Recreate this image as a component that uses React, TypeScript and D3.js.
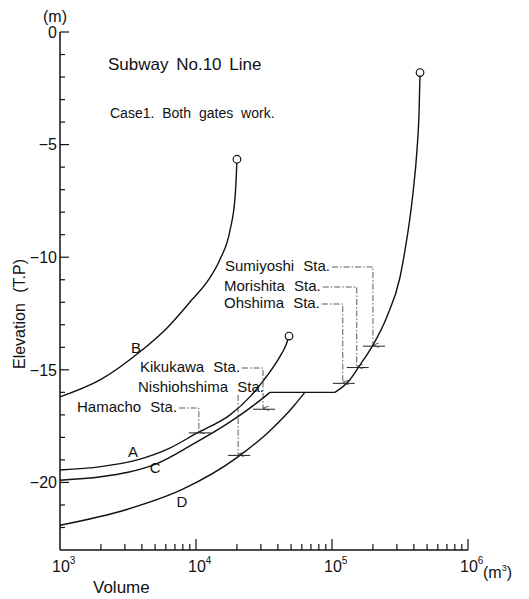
import React, { useRef, useEffect } from 'react';
import * as d3 from 'd3';

// [volume (m3), elevation (m T.P.)]
const curveA: [number, number][] = [[1000, -19.45], [2000, -19.3], [3700, -19.0], [6300, -18.5], [10200, -17.8], [17800, -17.0], [24900, -16.2], [31100, -15.5], [41500, -14.4], [45900, -13.9], [48300, -13.5]];
const curveB: [number, number][] = [[1000, -16.2], [1970, -15.45], [3870, -14.2], [6100, -13.15], [9000, -12.0], [12700, -10.9], [15000, -10.1], [17800, -8.8], [19400, -7.3], [19900, -6.0], [20000, -5.65]];
const curveC: [number, number][] = [[1000, -19.9], [2000, -19.75], [3160, -19.55], [5000, -19.2], [9500, -18.3], [16900, -17.4], [26200, -16.6], [35000, -16.0]];
const curveD: [number, number][] = [[1000, -21.9], [3100, -21.2], [8000, -20.3], [20000, -18.9], [35000, -17.7], [51600, -16.65], [63200, -16.0]];
const flatPart: [number, number][] = [[35000, -16.0], [105000, -16.0]];
const riseCurve: [number, number][] = [[105000, -16.0], [135000, -15.45], [160000, -14.8], [200000, -13.9], [253000, -12.65], [316000, -10.9], [344000, -9.7], [394000, -7.15], [422000, -5.2], [437000, -3.5], [444000, -1.8]];

// open circles at curve ends
const endPoints: [number, number][] = [[20000, -5.65], [48300, -13.5], [444000, -1.8]];

// curve names [label, volume, elevation]
const curveNames: [string, number, number][] = [['A', 3440, -18.65], ['B', 3620, -14.03], ['C', 5000, -19.36], ['D', 7890, -20.87]];

// stations [name, volume, elevation]
const stations: [string, number, number][] = [
  ['Sumiyoshi Sta.', 200000, -13.95],
  ['Morishita Sta.', 152000, -14.9],
  ['Ohshima Sta.', 120000, -15.6],
  ['Kikukawa Sta.', 31100, -16.75],
  ['Nishiohshima Sta.', 20400, -18.8],
  ['Hamacho Sta.', 10500, -17.8],
];
// label placement (px): x, baseline, leader type
const stationLabelPos: [number, number, string][] = [
  [225, 271, 'side'],
  [224, 291, 'side'],
  [224, 308, 'side'],
  [140, 372, 'side'],
  [138, 392, 'down'],
  [77, 412, 'side'],
];

const yTicks = [0, -5, -10, -15, -20];
const xDecades = [3, 4, 5, 6];

const App = () => {
  const svgRef = useRef<SVGSVGElement>(null);

  useEffect(() => {
    const width = 529;
    const height = 599;
    const font = "'Liberation Sans', Arial, sans-serif";

    const svg = d3.select(svgRef.current);
    svg.selectAll('*').remove();
    svg.attr('width', width).attr('height', height);

    const x = d3.scaleLog().domain([1e3, 1e6]).range([60, 468]);
    const y = d3.scaleLinear().domain([-23, 0]).range([550, 32]);

    svg.append('defs').append('marker')
      .attr('id', 'arr')
      .attr('viewBox', '0 0 6 8')
      .attr('refX', 3).attr('refY', 8)
      .attr('markerWidth', 5).attr('markerHeight', 6)
      .attr('orient', 'auto-start-reverse')
      .attr('markerUnits', 'userSpaceOnUse')
      .append('path')
      .attr('d', 'M0,0 L3,8 L6,0')
      .attr('fill', 'none')
      .attr('stroke', '#222')
      .attr('stroke-width', 1);

    // axes
    const ax = svg.append('g').attr('stroke', '#111').attr('stroke-width', 1.5).attr('fill', 'none');
    ax.append('line').attr('x1', x(1e3)).attr('x2', x(1e3)).attr('y1', y(0)).attr('y2', y(-23));
    ax.append('line').attr('x1', x(1e3)).attr('x2', x(1e6)).attr('y1', y(-23)).attr('y2', y(-23));

    d3.range(0, -23, -1).forEach(v => {
      const major = v % 5 === 0;
      ax.append('line')
        .attr('x1', x(1e3)).attr('x2', x(1e3) + (major ? 9 : 5))
        .attr('y1', y(v)).attr('y2', y(v))
        .attr('stroke-width', 1.2);
    });
    xDecades.forEach(p => {
      if (p > 3) {
        ax.append('line')
          .attr('x1', x(10 ** p)).attr('x2', x(10 ** p))
          .attr('y1', y(-23)).attr('y2', y(-23) - 11)
          .attr('stroke-width', 1.2);
      }
      if (p < 6) {
        d3.range(2, 10).forEach(m => {
          ax.append('line')
            .attr('x1', x(m * 10 ** p)).attr('x2', x(m * 10 ** p))
            .attr('y1', y(-23)).attr('y2', y(-23) - 6)
            .attr('stroke-width', 1.2);
        });
      }
    });

    const txt = svg.append('g').attr('font-family', font).attr('fill', '#111');

    yTicks.forEach(v => {
      txt.append('text')
        .attr('x', 57).attr('y', y(v)).attr('dy', '0.36em')
        .attr('text-anchor', 'end').attr('font-size', 16)
        .text(v === 0 ? '0' : '\u2212' + Math.abs(v));
    });
    xDecades.forEach(p => {
      const t = txt.append('text')
        .attr('x', x(10 ** p) - 8).attr('y', 572).attr('font-size', 16);
      t.append('tspan').text('10');
      t.append('tspan').attr('font-size', 10).attr('dy', -8).text(String(p));
    });

    txt.append('text').attr('x', 55).attr('y', 22).attr('text-anchor', 'middle').attr('font-size', 16).text('(m)');
    txt.append('text').attr('x', 93).attr('y', 593).attr('font-size', 17).text('Volume');
    const mu = txt.append('text').attr('x', 483).attr('y', 578).attr('font-size', 16);
    mu.append('tspan').text('(m');
    mu.append('tspan').attr('font-size', 9).attr('dy', -7).text('3');
    mu.append('tspan').attr('dy', 7).text(')');
    txt.append('text')
      .attr('transform', 'translate(25,314) rotate(-90)')
      .attr('text-anchor', 'middle').attr('font-size', 16)
      .attr('word-spacing', 6)
      .text('Elevation (T.P)');

    txt.append('text').attr('x', 108).attr('y', 70).attr('font-size', 17)
      .attr('word-spacing', 3).text('Subway No.10 Line');
    txt.append('text').attr('x', 110).attr('y', 118).attr('font-size', 14)
      .attr('word-spacing', 4).text('Case1. Both gates work.');

    // curves
    const line = d3.line<[number, number]>()
      .x(d => x(d[0])).y(d => y(d[1]))
      .curve(d3.curveMonotoneX);
    const curves = svg.append('g').attr('fill', 'none').attr('stroke', '#111').attr('stroke-width', 1.4);
    [curveA, curveB, curveC, curveD, riseCurve].forEach(c => {
      curves.append('path').attr('d', line(c));
    });
    curves.append('path').attr('d', d3.line<[number, number]>().x(d => x(d[0])).y(d => y(d[1]))(flatPart));

    svg.append('g').selectAll('circle')
      .data(endPoints).enter().append('circle')
      .attr('cx', d => x(d[0])).attr('cy', d => y(d[1])).attr('r', 3.8)
      .attr('fill', '#fff').attr('stroke', '#111').attr('stroke-width', 1.2);

    curveNames.forEach(([n, v, e]) => {
      txt.append('text').attr('x', x(v)).attr('y', y(e)).attr('dy', '0.36em')
        .attr('text-anchor', 'middle').attr('font-size', 15).text(n);
    });

    // station annotations
    const ann = svg.append('g');
    stations.forEach(([name, v, e], i) => {
      const [lx, ly, kind] = stationLabelPos[i];
      const t = txt.append('text').attr('x', lx).attr('y', ly).attr('font-size', 15)
        .attr('word-spacing', 5).text(name);
      const tw = (t.node() as SVGTextElement).getComputedTextLength();
      const mx = x(v);
      const my = y(e);
      let d: string;
      if (kind === 'side') {
        d = `M${lx + tw + 2},${ly - 4} H${mx} V${my - 1}`;
      } else {
        d = `M${mx},${ly + 3} V${my - 1}`;
      }
      ann.append('path').attr('d', d)
        .attr('fill', 'none').attr('stroke', '#333').attr('stroke-width', 0.8)
        .attr('stroke-dasharray', '6,2,1.5,2')
        .attr('marker-end', 'url(#arr)');
      ann.append('line')
        .attr('x1', mx - 10).attr('x2', mx + 12).attr('y1', my).attr('y2', my)
        .attr('stroke', '#222').attr('stroke-width', 1);
    });
  }, []);

  return (
    <svg ref={svgRef} style={{ position: 'absolute', left: 0, top: 0, background: '#fff' }}></svg>
  );
};

export default App;
